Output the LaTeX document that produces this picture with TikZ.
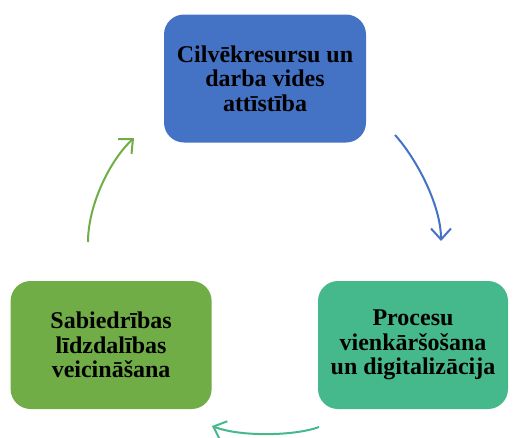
\documentclass[tikz,border=0pt]{standalone}
\usepackage{fontspec}
\setmainfont{Liberation Serif}
\usepackage{tikz}
\usetikzlibrary{arrows.meta, positioning}
\usepackage{xcolor}
\definecolor{hrblue}{HTML}{4472C4}
\definecolor{procteal}{HTML}{45B98B}
\definecolor{socgreen}{HTML}{70AD47}

\begin{document}
\begin{tikzpicture}[x=1pt, y=-1pt,
  every node/.style={font=\bfseries\fontsize{24}{24.5}\selectfont},
  box/.style={rounded corners=20pt, align=center, inner sep=0pt, minimum height=128pt},
  cyc/.style={line width=2pt, -{Straight Barb[length=11pt, width=20pt, line width=2pt]}}]
  \useasboundingbox (0,0) rectangle (513,437);
  \node[box, fill=hrblue, minimum width=202pt] (hr) at (265,78.5) {Cilvēkresursu un\\darba vides\\attīstība};
  \node[box, fill=procteal, minimum width=190pt] (proc) at (413,345) {Procesu\\vienkāršošana\\un digitalizācija};
  \node[box, fill=socgreen, minimum width=201pt, left=106pt of proc] (soc) {Sabiedrības\\līdzdalības\\veicināšana};
  % cycle arrows
  \coordinate (hr-out) at (395,135);
  \coordinate (proc-in) at (441,241);
  \coordinate (proc-out) at (319,427);
  \coordinate (soc-in) at (212,426);
  \coordinate (soc-out) at (88,242);
  \coordinate (hr-in) at (134,138);
  \draw[cyc, hrblue] (hr-out) .. controls (416,158) and (441,205) .. (proc-in);
  \draw[cyc, procteal] (proc-out) .. controls (295,436) and (240,437) .. (soc-in);
  \draw[cyc, socgreen] (soc-out) .. controls (88,205) and (110,160) .. (hr-in);
\end{tikzpicture}
\end{document}
